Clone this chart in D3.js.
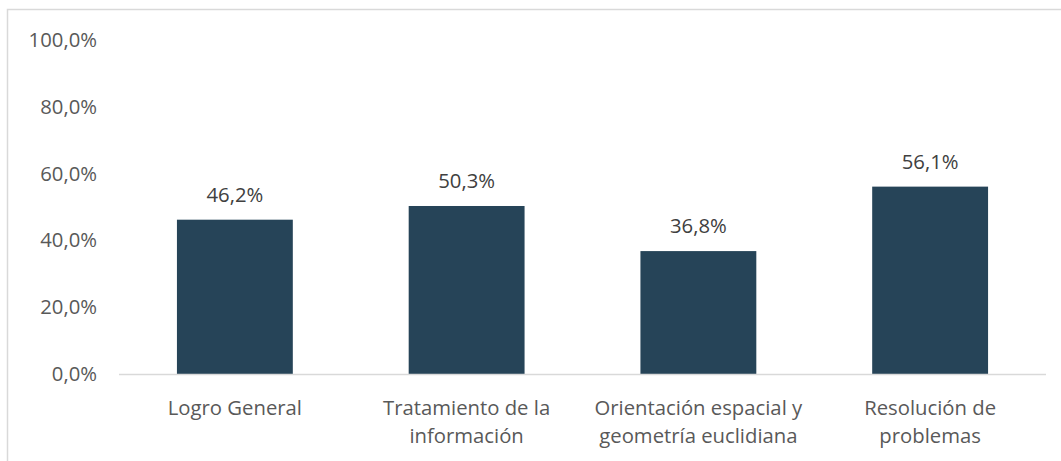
<!DOCTYPE html>
<html>
<head>
<meta charset="utf-8">
<script src="https://cdn.jsdelivr.net/npm/d3@7"></script>
<style>
  html, body { margin: 0; padding: 0; background: #fff; }
  svg { display: block; font-family: 'Open Sans', sans-serif; }
</style>
</head>
<body>
<svg id="chart" width="1061" height="461"></svg>
<script>
const categories = [
  ['Logro General'],
  ['Tratamiento de la', 'información'],
  ['Orientación espacial y', 'geometría euclidiana'],
  ['Resolución de', 'problemas'],
];
const values = [0.462, 0.503, 0.368, 0.561];
const yTicks = [0, 0.2, 0.4, 0.6, 0.8, 1.0];

const width = 1061;
const height = 461;
const margin = { top: 40, right: 15, bottom: 87, left: 119 };
const plotWidth = width - margin.left - margin.right;
const plotHeight = height - margin.top - margin.bottom;
const fontSize = '20.3px';

const svg = d3.select('#chart');

// outer frame, runs off the right and bottom edges like the source
svg.append('rect')
  .attr('x', 7.5).attr('y', 9.5)
  .attr('width', 1100).attr('height', 500)
  .attr('fill', 'none').attr('stroke', '#d9d9d9').attr('stroke-width', 1.5);

const chart = svg.append('g').attr('transform', `translate(${margin.left},${margin.top})`);

const xScale = d3.scaleBand()
  .domain(d3.range(categories.length))
  .range([0, plotWidth])
  .paddingInner(0.5)
  .paddingOuter(0.25);

const yScale = d3.scaleLinear().domain([0, 1]).range([plotHeight, 0]);

const fmt = (d) => d3.format('.1f')(d * 100).replace('.', ',') + '%';

const yAxis = chart.append('g')
  .call(d3.axisLeft(yScale).tickValues(yTicks).tickSize(0).tickPadding(22).tickFormat(fmt));
yAxis.select('.domain').remove();
yAxis.selectAll('text')
  .attr('fill', '#595959')
  .style('font-size', fontSize)
  .style('font-family', 'Open Sans, sans-serif');

chart.append('g')
  .selectAll('rect')
  .data(values)
  .join('rect')
  .attr('x', (d, i) => xScale(i))
  .attr('y', (d) => yScale(d))
  .attr('width', xScale.bandwidth())
  .attr('height', (d) => plotHeight - yScale(d))
  .attr('fill', '#264458');

chart.append('g')
  .selectAll('text')
  .data(values)
  .join('text')
  .attr('x', (d, i) => xScale(i) + xScale.bandwidth() / 2)
  .attr('y', (d) => yScale(d) - 26)
  .attr('text-anchor', 'middle')
  .attr('dominant-baseline', 'central')
  .attr('fill', '#404040')
  .style('font-size', fontSize)
  .text(fmt);

chart.append('line')
  .attr('x1', 0).attr('x2', plotWidth)
  .attr('y1', plotHeight + 0.5).attr('y2', plotHeight + 0.5)
  .attr('stroke', '#d9d9d9').attr('stroke-width', 1.5);

const xLabels = chart.append('g')
  .selectAll('text')
  .data(categories)
  .join('text')
  .attr('x', (d, i) => xScale(i) + xScale.bandwidth() / 2)
  .attr('y', plotHeight + 33)
  .attr('text-anchor', 'middle')
  .attr('dominant-baseline', 'central')
  .attr('fill', '#595959')
  .style('font-size', fontSize);

xLabels.selectAll('tspan')
  .data((d) => d)
  .join('tspan')
  .attr('x', function () { return this.parentNode.getAttribute('x'); })
  .attr('dy', (d, i) => (i === 0 ? 0 : 28))
  .text((d) => d);
</script>
</body>
</html>
